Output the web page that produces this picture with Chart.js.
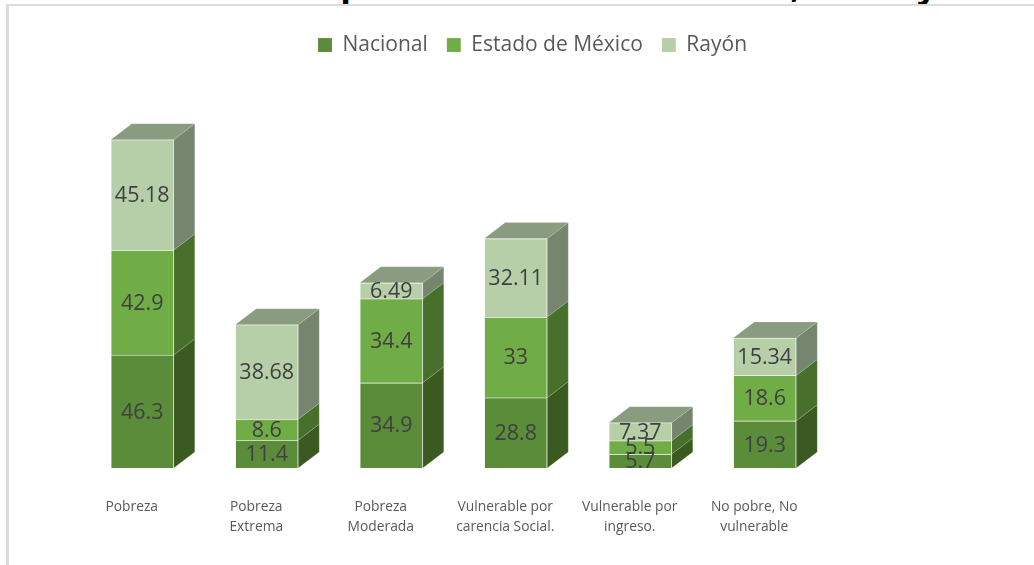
<!DOCTYPE html>
<html>
<head>
<meta charset="utf-8">
<script src="https://cdn.jsdelivr.net/npm/chart.js@4"></script>
<style>
    html, body { margin: 0; padding: 0; background: #fff; overflow: hidden; }
    #wrap { position: relative; width: 1034px; height: 565px; overflow: hidden; }
    #cut-title { position: absolute; left: 80px; top: -39px; font: bold 34.8px "Open Sans", sans-serif; color: #000; white-space: nowrap; }
    #cut-title span { letter-spacing: -3px; }
    #frame { position: absolute; left: 6px; top: 4px; width: 1040px; height: 580px; background: #fff; border-top: 2px solid #dcdcdc; border-left: 3px solid #dcdcdc; }
    canvas { position: absolute; left: 0; top: 0; }
</style>
</head>
<body>
<div id="wrap">
    <div id="cut-title">Medición de la pobreza a escala Nacional, <span>Estado</span> y Local</div>
    <div id="frame"></div>
    <canvas id="chart" width="1034" height="565"></canvas>
</div>
<script>
// Data
const categories = [
    ['Pobreza'],
    ['Pobreza', 'Extrema'],
    ['Pobreza', 'Moderada'],
    ['Vulnerable por', 'carencia Social.'],
    ['Vulnerable por', 'ingreso.'],
    ['No pobre, No', 'vulnerable']
];
const nacional = [46.3, 11.4, 34.9, 28.8, 5.7, 19.3];
const estado = [42.9, 8.6, 34.4, 33, 5.5, 18.6];
const rayon = [45.18, 38.68, 6.49, 32.11, 7.37, 15.34];

// Colours per series: front, side, top
const faces = [
    { front: '#5B8C3A', side: '#3A5A22' },
    { front: '#70AD47', side: '#48702C' },
    { front: '#B6CFA9', side: '#75856E', top: '#8A9C80' }
];
const edgeColor = 'rgba(255, 255, 255, 0.12)';

const DEPTH_X = 21;
const DEPTH_Y = 16;

// Draws the slanted side and top faces next to each bar
const boxFaces = {
    id: 'boxFaces',
    beforeDatasetsDraw(chart) {
        const ctx = chart.ctx;
        ctx.save();
        ctx.strokeStyle = edgeColor;
        chart.data.datasets.forEach((ds, i) => {
            chart.getDatasetMeta(i).data.forEach(bar => {
                const right = bar.x + bar.width / 2;
                const left = bar.x - bar.width / 2;
                ctx.fillStyle = faces[i].side;
                ctx.beginPath();
                ctx.moveTo(right, bar.y);
                ctx.lineTo(right + DEPTH_X, bar.y - DEPTH_Y);
                ctx.lineTo(right + DEPTH_X, bar.base - DEPTH_Y);
                ctx.lineTo(right, bar.base);
                ctx.closePath();
                ctx.fill();
                ctx.stroke();
                if (faces[i].top) {
                    ctx.fillStyle = faces[i].top;
                    ctx.beginPath();
                    ctx.moveTo(left, bar.y);
                    ctx.lineTo(left + DEPTH_X, bar.y - DEPTH_Y);
                    ctx.lineTo(right + DEPTH_X, bar.y - DEPTH_Y);
                    ctx.lineTo(right, bar.y);
                    ctx.closePath();
                    ctx.fill();
                    ctx.stroke();
                }
            });
        });
        ctx.restore();
    }
};

// Value labels in the middle of each segment
const barValues = {
    id: 'barValues',
    afterDatasetsDraw(chart) {
        const ctx = chart.ctx;
        ctx.save();
        ctx.font = '21.5px "Open Sans"';
        ctx.fillStyle = '#404040';
        ctx.textAlign = 'center';
        ctx.textBaseline = 'middle';
        chart.data.datasets.forEach((ds, i) => {
            chart.getDatasetMeta(i).data.forEach((bar, j) => {
                ctx.fillText(ds.data[j], bar.x, (bar.y + bar.base) / 2 + 1);
            });
        });
        ctx.restore();
    }
};

// Legend is not centred on the plot in the original, move it over
const shiftLegend = {
    id: 'shiftLegend',
    afterLayout(chart) {
        chart.legend.left += 79;
        chart.legend.right += 79;
        chart.legend.top -= 11.5;
        chart.legend.bottom -= 11.5;
    }
};

new Chart(document.getElementById('chart'), {
    type: 'bar',
    data: {
        labels: categories,
        datasets: [
            { label: 'Nacional', data: nacional, backgroundColor: faces[0].front, borderColor: edgeColor, borderWidth: 1 },
            { label: 'Estado de México', data: estado, backgroundColor: faces[1].front, borderColor: edgeColor, borderWidth: 1 },
            { label: 'Rayón', data: rayon, backgroundColor: faces[2].front, borderColor: edgeColor, borderWidth: 1 }
        ]
    },
    options: {
        responsive: false,
        animation: false,
        layout: { padding: { left: 80, right: 207, top: 27.1, bottom: 0 } },
        datasets: { bar: { barThickness: 63 } },
        plugins: {
            legend: {
                display: true,
                position: 'top',
                labels: {
                    boxWidth: 14,
                    boxHeight: 14,
                    padding: 19,
                    color: '#595959',
                    font: { family: 'Open Sans', size: 21 }
                }
            },
            tooltip: { enabled: false }
        },
        scales: {
            x: {
                stacked: true,
                grid: { display: false },
                border: { display: false },
                afterFit(scale) {
                    scale.height = 97;
                },
                ticks: {
                    color: '#595959',
                    font: { family: 'Open Sans', size: 13.8, lineHeight: 1.45 },
                    labelOffset: -10.5,
                    padding: 21,
                    maxRotation: 0
                }
            },
            y: {
                display: false,
                stacked: true,
                min: 0,
                max: 160
            }
        }
    },
    plugins: [boxFaces, barValues, shiftLegend]
});
</script>
</body>
</html>
